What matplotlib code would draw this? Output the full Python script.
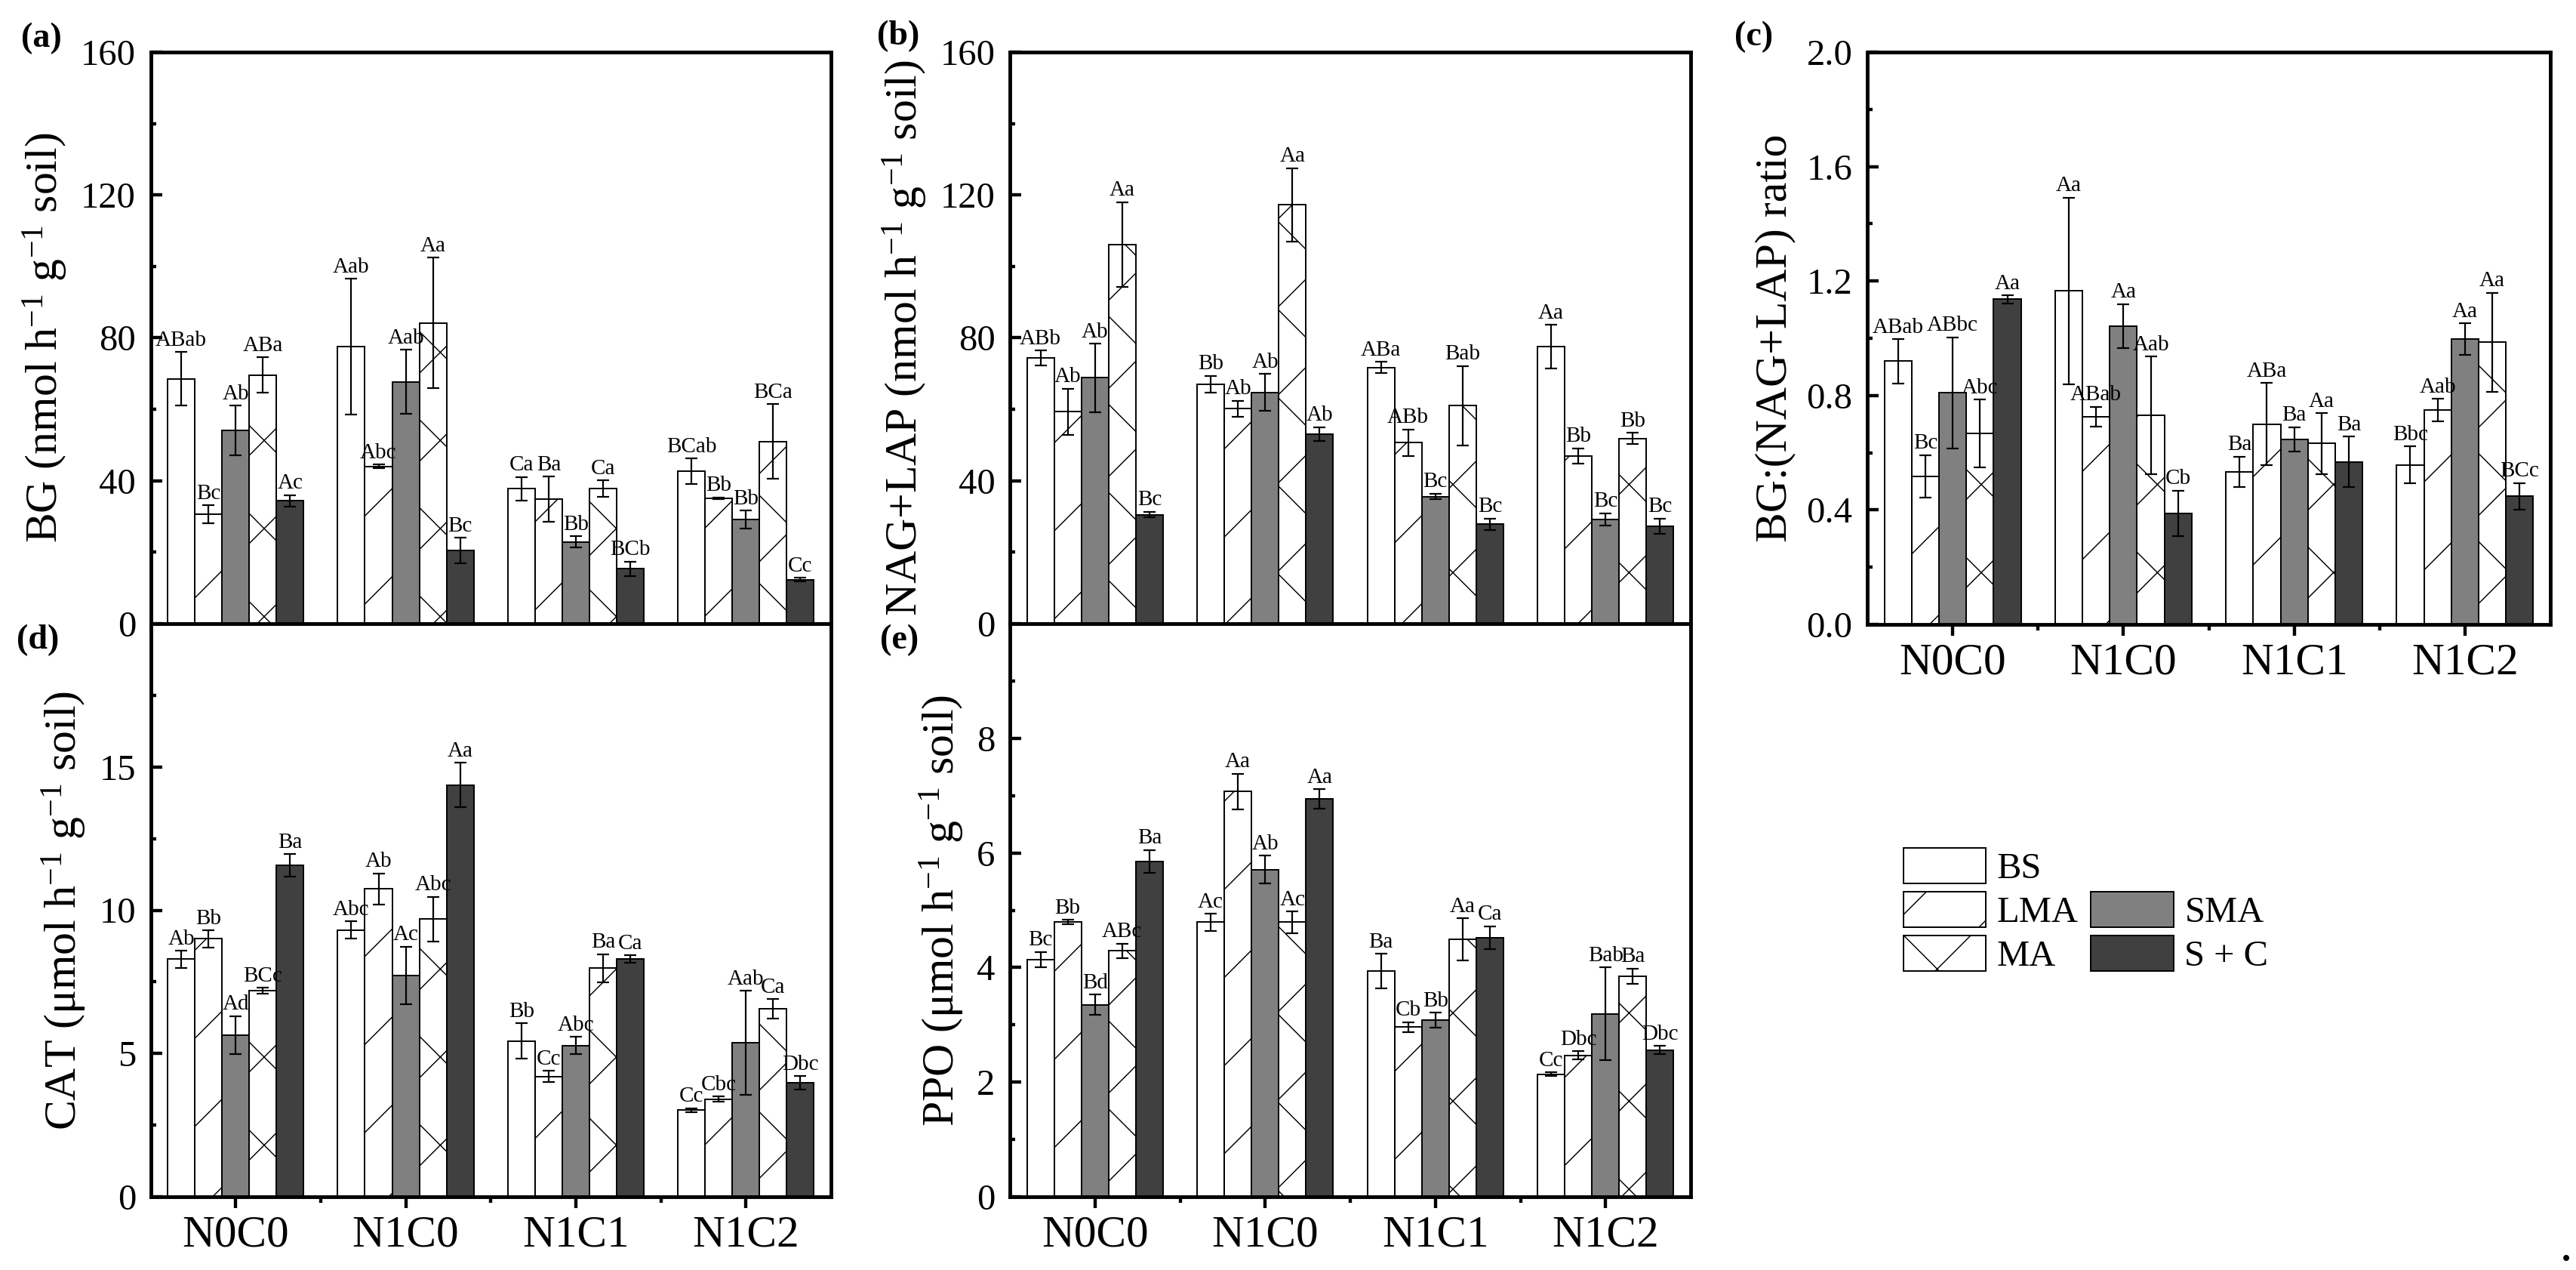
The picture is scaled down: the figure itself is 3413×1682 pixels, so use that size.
import matplotlib
matplotlib.use("Agg")
import matplotlib.pyplot as plt
from matplotlib.patches import Rectangle
from matplotlib.ticker import FixedLocator, FormatStrFormatter
import numpy as np

plt.rcParams["font.family"] = ["Liberation Serif", "DejaVu Serif"]
plt.rcParams["mathtext.fontset"] = "custom"
plt.rcParams["mathtext.rm"] = "Liberation Serif"
plt.rcParams["mathtext.it"] = "Liberation Serif:italic"
plt.rcParams["hatch.linewidth"] = 0.3

W, H, DPI = 3413, 1682, 350

groups = ["N0C0", "N1C0", "N1C1", "N1C2"]
treatments = ["BS", "LMA", "SMA", "MA", "S + C"]
colors = ["white", "white", "#808080", "white", "#404040"]
hatches = [None, "/", None, "x", None]

# (a) BG
bg_mean = [[68.5, 30.6, 54.1, 69.6, 34.4], [77.5, 44.0, 67.7, 84.2, 20.5],
           [37.8, 34.9, 22.9, 37.8, 15.4], [42.7, 35.1, 29.1, 51.0, 12.3]]
bg_err = [[7.5, 2.5, 6.9, 5.0, 1.6], [19.0, 0.5, 9.0, 18.3, 3.5],
          [3.3, 6.3, 1.6, 2.3, 2.0], [3.6, 0.3, 2.5, 10.5, 0.5]]
bg_sig = [["ABab", "Bc", "Ab", "ABa", "Ac"], ["Aab", "Abc", "Aab", "Aa", "Bc"],
          ["Ca", "Ba", "Bb", "Ca", "BCb"], ["BCab", "Bb", "Bb", "BCa", "Cc"]]

# (b) NAG+LAP
nl_mean = [[74.4, 59.3, 68.8, 106.1, 30.5], [67.0, 60.2, 64.7, 117.2, 53.1],
           [71.7, 50.7, 35.6, 61.0, 27.8], [77.5, 47.0, 29.2, 51.8, 27.3]]
nl_err = [[2.1, 6.5, 9.6, 11.9, 0.8], [2.4, 2.2, 5.2, 10.3, 1.9],
          [1.6, 3.7, 0.8, 11.1, 1.6], [6.1, 2.1, 1.7, 1.6, 2.1]]
nl_sig = [["ABb", "Ab", "Ab", "Aa", "Bc"], ["Bb", "Ab", "Ab", "Aa", "Ab"],
          ["ABa", "ABb", "Bc", "Bab", "Bc"], ["Aa", "Bb", "Bc", "Bb", "Bc"]]

# (c) BG:(NAG+LAP)
ratio_mean = [[0.92, 0.518, 0.809, 0.667, 1.136], [1.165, 0.726, 1.042, 0.73, 0.389],
              [0.533, 0.70, 0.647, 0.632, 0.568], [0.558, 0.75, 0.997, 0.986, 0.448]]
ratio_err = [[0.077, 0.074, 0.194, 0.118, 0.014], [0.326, 0.035, 0.077, 0.206, 0.079],
             [0.053, 0.144, 0.042, 0.106, 0.088], [0.064, 0.039, 0.055, 0.173, 0.046]]
ratio_sig = [["ABab", "Bc", "ABbc", "Abc", "Aa"], ["Aa", "ABab", "Aa", "Aab", "Cb"],
             ["Ba", "ABa", "Ba", "Aa", "Ba"], ["Bbc", "Aab", "Aa", "Aa", "BCc"]]

# (d) CAT
cat_mean = [[8.29, 9.0, 5.65, 7.2, 11.56], [9.31, 10.74, 7.73, 9.69, 14.37],
            [5.43, 4.2, 5.28, 7.98, 8.29], [3.02, 3.41, 5.38, 6.56, 3.97]]
cat_err = [[0.3, 0.3, 0.66, 0.1, 0.4], [0.3, 0.55, 1.0, 0.78, 0.78],
           [0.62, 0.19, 0.3, 0.49, 0.13], [0.07, 0.09, 1.81, 0.34, 0.24]]
cat_sig = [["Ab", "Bb", "Ad", "BCc", "Ba"], ["Abc", "Ab", "Ac", "Abc", "Aa"],
           ["Bb", "Cc", "Abc", "Ba", "Ca"], ["Cc", "Cbc", "Aab", "Ca", "Dbc"]]

# (e) PPO
ppo_mean = [[4.14, 4.79, 3.35, 4.29, 5.85], [4.79, 7.07, 5.71, 4.79, 6.94],
            [3.94, 2.96, 3.08, 4.49, 4.52], [2.14, 2.47, 3.19, 3.85, 2.56]]
ppo_err = [[0.13, 0.04, 0.18, 0.13, 0.2], [0.15, 0.31, 0.24, 0.19, 0.17],
           [0.3, 0.09, 0.13, 0.37, 0.2], [0.03, 0.07, 0.81, 0.13, 0.07]]
ppo_sig = [["Bc", "Bb", "Bd", "ABc", "Ba"], ["Ac", "Aa", "Ab", "Ac", "Aa"],
           ["Ba", "Cb", "Bb", "Aa", "Ca"], ["Cc", "Dbc", "Bab", "Ba", "Dbc"]]

BAR_W = 0.16
OFFSETS = [-0.32, -0.16, 0.0, 0.16, 0.32]


def px_axes(fig, x0, x1, y0, y1):
    """axes from pixel box (y measured from top)"""
    return fig.add_axes([x0 / W, 1 - y1 / H, (x1 - x0) / W, (y1 - y0) / H])


def draw_panel(ax, mean, err, sig, ylim, major, minor, ylabel, fmt, show_x):
    xs = np.arange(1, len(groups) + 1)
    for j in range(len(treatments)):
        vals = [row[j] for row in mean]
        errs = [row[j] for row in err]
        pos = xs + OFFSETS[j]
        ax.bar(pos, vals, BAR_W, color=colors[j], edgecolor="black",
               linewidth=0.4, hatch=hatches[j], yerr=errs, label=treatments[j],
               error_kw=dict(ecolor="black", elinewidth=0.45, capsize=1.65,
                             capthick=0.45), zorder=2)
        for p, v, e, s in zip(pos, vals, errs, [row[j] for row in sig]):
            ax.annotate(s, (p, v + e), xytext=(0, 0.5), textcoords="offset points",
                        ha="center", va="bottom", fontsize=6, zorder=3)
    ax.set_xlim(0.5, 4.5)
    ax.set_ylim(*ylim)
    ax.yaxis.set_major_locator(FixedLocator(major))
    ax.yaxis.set_minor_locator(FixedLocator(minor))
    ax.yaxis.set_major_formatter(FormatStrFormatter(fmt))
    ax.set_xticks(xs)
    ax.set_xticklabels(groups)
    ax.xaxis.set_minor_locator(FixedLocator([1.5, 2.5, 3.5]))
    for s in ax.spines.values():
        s.set_linewidth(1.0)
    ax.tick_params(axis="y", which="major", direction="in", length=3.1,
                   width=0.9, labelsize=10, pad=4)
    ax.tick_params(axis="y", which="minor", direction="in", length=1.5, width=0.9)
    if show_x:
        ax.tick_params(axis="x", which="major", direction="out", length=3,
                       width=0.9, labelsize=12.2, pad=2)
        ax.tick_params(axis="x", which="minor", direction="out", length=1.6,
                       width=0.9)
    else:
        ax.tick_params(axis="x", which="both", bottom=False, labelbottom=False)
    ax.set_ylabel(ylabel, fontsize=12.3, labelpad=3)


fig = plt.figure(figsize=(W / DPI, H / DPI), dpi=DPI)

ax_a = px_axes(fig, 199.5, 1101, 69, 826)
ax_b = px_axes(fig, 1338, 2240, 69, 826)
ax_c = px_axes(fig, 2474, 3379, 69, 827)
ax_d = px_axes(fig, 199.5, 1101, 826, 1585)
ax_e = px_axes(fig, 1338, 2240, 826, 1585)

unit = r" h$^{-1}$ g$^{-1}$ soil)"
draw_panel(ax_a, bg_mean, bg_err, bg_sig, (0, 160), [0, 40, 80, 120, 160],
           [20, 60, 100, 140], "BG (nmol" + unit, "%d", False)
draw_panel(ax_b, nl_mean, nl_err, nl_sig, (0, 160), [0, 40, 80, 120, 160],
           [20, 60, 100, 140], "NAG+LAP (nmol" + unit, "%d", False)
draw_panel(ax_c, ratio_mean, ratio_err, ratio_sig, (0, 2.0),
           [0.0, 0.4, 0.8, 1.2, 1.6, 2.0], [0.2, 0.6, 1.0, 1.4, 1.8],
           "BG:(NAG+LAP) ratio", "%.1f", True)
draw_panel(ax_d, cat_mean, cat_err, cat_sig, (0, 20), [0, 5, 10, 15],
           [2.5, 7.5, 12.5, 17.5], "CAT (\u03bcmol" + unit, "%d", True)
draw_panel(ax_e, ppo_mean, ppo_err, ppo_sig, (0, 10), [0, 2, 4, 6, 8],
           [1, 3, 5, 7, 9], "PPO (\u03bcmol" + unit, "%d", True)

# panel letters
for txt, x, y in [("(a)", 28, 51), ("(b)", 1162, 48), ("(c)", 2298, 49),
                  ("(d)", 22, 848), ("(e)", 1166, 848)]:
    fig.text(x / W, 1 - y / H, txt, fontsize=9.5, fontweight="bold",
             ha="left", va="center")

# legend: BS / LMA / MA in first column, blank / SMA / S + C in second
h, l = ax_a.get_legend_handles_labels()
blank = Rectangle((0, 0), 1, 1, fill=False, edgecolor="none", linewidth=0)
handles = [h[0], h[1], h[3], blank, h[2], h[4]]
labels = [l[0], l[1], l[3], "", l[2], l[4]]
fig.legend(handles, labels, ncol=2, loc="upper left",
           bbox_to_anchor=(2522 / W, 1 - 1123 / H), frameon=False,
           fontsize=10, handlelength=2.25, handleheight=1.1, labelspacing=0.17,
           handletextpad=0.3, columnspacing=0.34, borderpad=0, borderaxespad=0)

fig.text(3406 / W, 1 - 1680 / H, ".", fontsize=10, ha="right", va="bottom",
         fontweight="bold")

fig.savefig("out.png", dpi=DPI)
